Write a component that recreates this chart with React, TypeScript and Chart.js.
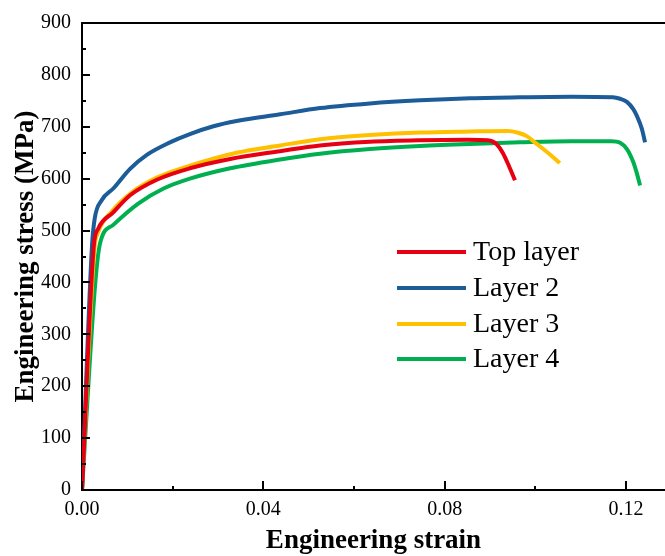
import React, { useEffect, useRef } from "react";
import { Chart, registerables } from "chart.js";

Chart.register(...registerables);

// ---- data ----
const seriesLabels = ["Top layer", "Layer 2", "Layer 3", "Layer 4"];
const seriesColors = ["#E60012", "#1B5C99", "#FFC000", "#00B050"];

const topStrain = [0, 0.0026, 0.0036, 0.0069, 0.0106, 0.0165, 0.0238, 0.0327, 0.0437, 0.0525, 0.0635, 0.0746, 0.085, 0.0895, 0.0905, 0.0915, 0.0928, 0.0942, 0.0955];
const topStress = [0, 470, 504, 535, 568, 598, 620, 638, 653, 664, 671, 674, 675, 674, 672, 666, 650, 624, 597];

const layer2Strain = [0, 0.0022, 0.0028, 0.0043, 0.0069, 0.0106, 0.0143, 0.0194, 0.0238, 0.029, 0.0341, 0.0437, 0.0525, 0.0635, 0.0746, 0.0856, 0.0966, 0.108, 0.1171, 0.1187, 0.1202, 0.1216, 0.1224, 0.1235, 0.1242];
const layer2Stress = [0, 470, 523, 558, 581, 619, 646, 670, 686, 701, 711, 724, 736, 745, 751, 755, 757, 758, 757, 754, 748, 734, 721, 696, 670];

const layer3Strain = [0, 0.0028, 0.0034, 0.0069, 0.0106, 0.0165, 0.0238, 0.0341, 0.0437, 0.0525, 0.0635, 0.0746, 0.0856, 0.094, 0.096, 0.0981, 0.1003, 0.1025, 0.1054];
const layer3Stress = [0, 470, 493, 540, 571, 602, 625, 650, 664, 676, 684, 689, 691, 692, 689, 682, 667, 652, 630];

const layer4Strain = [0, 0.0029, 0.004, 0.0069, 0.0124, 0.018, 0.0238, 0.0327, 0.0437, 0.0525, 0.0635, 0.0746, 0.0856, 0.0966, 0.108, 0.1168, 0.1187, 0.1202, 0.1216, 0.1223, 0.1231];
const layer4Stress = [0, 396, 476, 511, 552, 581, 600, 620, 637, 648, 657, 663, 667, 670, 672, 672, 669, 657, 632, 613, 587];

const strainSeries = [topStrain, layer2Strain, layer3Strain, layer4Strain];
const stressSeries = [topStress, layer2Stress, layer3Stress, layer4Stress];

const xTickLabels = ["0.00", "0.04", "0.08", "0.12"];
const yTickLabels = ["0", "100", "200", "300", "400", "500", "600", "700", "800", "900"];

const FONT = "'Liberation Serif', 'Times New Roman', serif";

const frame = {
  id: "frame",
  afterDraw(chart: any) {
    const { ctx, chartArea } = chart;
    const xs = chart.scales.x;
    const ys = chart.scales.y;
    ctx.save();
    ctx.strokeStyle = "#000";
    ctx.lineWidth = 2;
    // top border
    ctx.beginPath();
    ctx.moveTo(chartArea.left - 1, chartArea.top);
    ctx.lineTo(chartArea.right, chartArea.top);
    ctx.stroke();
    // inward ticks on y
    for (let v = 0; v <= 900; v += 50) {
      const y = Math.round(ys.getPixelForValue(v));
      const len = v % 100 === 0 ? 8 : 4;
      ctx.beginPath();
      ctx.moveTo(chartArea.left, y);
      ctx.lineTo(chartArea.left + len, y);
      ctx.stroke();
    }
    // inward ticks on x
    for (let i = 0; i <= 6; i++) {
      const v = i * 0.02;
      const x = Math.round(xs.getPixelForValue(v));
      const len = i % 2 === 0 ? 9 : 4;
      ctx.beginPath();
      ctx.moveTo(x, chartArea.bottom);
      ctx.lineTo(x, chartArea.bottom - len);
      ctx.stroke();
    }
    // legend
    const rowY = [252, 288, 324, 359];
    chart.data.datasets.forEach((ds: any, i: number) => {
      ctx.strokeStyle = ds.borderColor;
      ctx.lineWidth = 4;
      ctx.beginPath();
      ctx.moveTo(397, rowY[i]);
      ctx.lineTo(466, rowY[i]);
      ctx.stroke();
      ctx.fillStyle = "#000";
      ctx.font = `28px ${FONT}`;
      ctx.textAlign = "left";
      ctx.textBaseline = "middle";
      ctx.fillText(ds.label, 473, rowY[i] + 1);
    });
    ctx.restore();
  },
};

export default function App() {
  const ref = useRef<HTMLCanvasElement>(null);
  useEffect(() => {
    document.body.style.margin = "0";
    const datasets = seriesLabels.map((label, i) => ({
      label,
      data: strainSeries[i].map((x, j) => ({ x, y: stressSeries[i][j] })),
      borderColor: seriesColors[i],
      backgroundColor: seriesColors[i],
      borderWidth: 4,
      pointRadius: 0,
      showLine: true,
      cubicInterpolationMode: "monotone" as const,
      fill: false,
    }));
    const chart = new Chart(ref.current!, {
      type: "scatter",
      data: { datasets },
      plugins: [frame],
      options: {
        animation: false,
        responsive: false,
        devicePixelRatio: 1,
        layout: { padding: { top: 19, right: 0, left: 0, bottom: 0 } },
        plugins: { legend: { display: false }, tooltip: { enabled: false } },
        scales: {
          x: {
            type: "linear",
            min: 0,
            max: 0.1286,
            afterFit: (s: any) => { s.height = 66; },
            grid: { display: false, drawTicks: false },
            border: { display: true, color: "#000", width: 2 },
            ticks: {
              stepSize: 0.04,
              includeBounds: false,
              padding: 8,
              color: "#000",
              font: { family: FONT, size: 20 },
              callback: (v: any) => {
                const idx = Math.round(Number(v) / 0.04);
                return Math.abs(Number(v) - idx * 0.04) < 1e-6 ? xTickLabels[idx] ?? "" : "";
              },
            },
            title: {
              display: true,
              text: "Engineering strain",
              color: "#000",
              font: { family: FONT, size: 27, weight: "bold", lineHeight: 1 },
              padding: { top: 0, bottom: 1 },
            },
          },
          y: {
            type: "linear",
            min: 0,
            max: 900,
            afterFit: (s: any) => { s.width = 82; },
            grid: { display: false, drawTicks: false },
            border: { display: true, color: "#000", width: 2 },
            ticks: {
              stepSize: 100,
              padding: 11,
              color: "#000",
              font: { family: FONT, size: 20 },
              callback: (v: any) => yTickLabels[Math.round(Number(v) / 100)] ?? "",
            },
            title: {
              display: true,
              text: "Engineering stress (MPa)",
              color: "#000",
              font: { family: FONT, size: 27, weight: "bold" },
              padding: { top: 10, bottom: 0 },
            },
          },
        },
      },
    });
    return () => chart.destroy();
  }, []);
  return (
    <div style={{ position: "absolute", left: 0, top: 0, width: 665, height: 556 }}>
      <canvas ref={ref} width={665} height={556} />
    </div>
  );
}
